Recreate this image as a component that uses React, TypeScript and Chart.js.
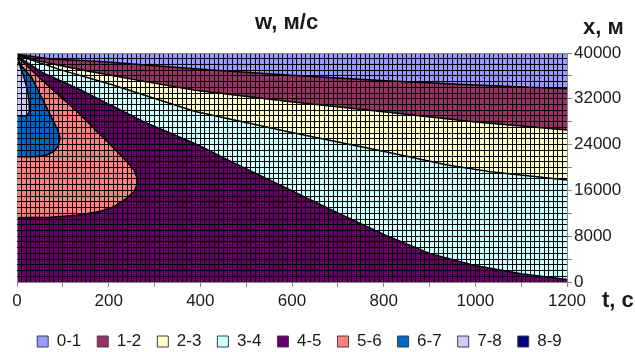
import React, { useEffect, useRef } from 'react';
import { Chart, registerables } from 'chart.js';

Chart.register(...registerables);

// ---- data ----
const LEVELS = ['0-1', '1-2', '2-3', '3-4', '4-5', '5-6', '6-7', '7-8', '8-9'];
const COLORS = ['#9999FF', '#993366', '#FFFFCC', '#CCFFFF', '#660066', '#FF8080', '#0066CC', '#CCCCFF', '#000080'];

const TITLE = 'w, м/с';
const X_TITLE = 't, с';
const Y_TITLE = 'x, м';

const T_MIN = 0;
const T_MAX = 1200;
const X_MIN = 0;
const X_MAX = 40000;
const T_STEP = 10;      // mesh step, s
const X_STEP = 1000;    // mesh step, m
const T_LABEL_STEP = 200;
const T_TICK_STEP = 100;
const X_LABEL_STEP = 8000;
const X_TICK_STEP = 4000;

// contour lines [t, x]
const W1 = [[0, 39800], [73, 38950], [182, 38530], [400, 37150], [597, 36100], [804, 35150], [1000, 34400], [1200, 33750]];
const W2 = [[0, 39700], [60, 38400], [150, 36900], [280, 35000], [389, 33500], [597, 31500], [804, 29700], [1000, 27950], [1200, 26570]];
const W3 = [[0, 39600], [94, 37100], [204, 34550], [389, 29770], [597, 26160], [804, 22770], [939, 20440], [1033, 19270], [1200, 17810]];
const W4 = [[0, 39500], [57, 36500], [131, 33870], [276, 28020], [395, 23940], [461, 21300], [597, 16060], [701, 12030], [804, 8180], [900, 5000], [996, 2920], [1100, 1450], [1200, 420]];
const W5 = [[0, 39400], [50, 35600], [131, 29770], [204, 23940], [240, 21020], [255, 19600], [262, 18160], [261, 16900], [256, 15800], [240, 14700], [215, 13300], [180, 12300], [131, 11680], [73, 11330], [0, 11240]];
const W6 = [[0, 39300], [9, 37800], [33, 35620], [51, 32700], [69, 29770], [87, 26860], [94, 25170], [90, 23770], [80, 22770], [62, 22100], [40, 21890], [0, 21890]];
const W7 = [[0, 38700], [5, 38000], [9.5, 37100], [16, 35500], [22.5, 33600], [27, 31000], [27, 29800], [22, 29050], [0, 29020]];
const W8 = [[8, 40000], [3, 39200], [0, 38600]];

const CONTOURS = [W1, W2, W3, W4, W5, W6, W7, W8];
// corner points closing each superlevel region (region k = w >= k)
const BOTTOM_CLOSE = [[T_MAX, X_MIN], [T_MIN, X_MIN]];
const CLOSERS = [BOTTOM_CLOSE, BOTTOM_CLOSE, BOTTOM_CLOSE, BOTTOM_CLOSE, [], [], [], [[T_MIN, X_MAX]]];
const BASE = [[T_MIN, X_MIN], [T_MAX, X_MIN], [T_MAX, X_MAX], [T_MIN, X_MAX]];

const toPts = (arr: number[][]) => arr.map(([x, y]) => ({ x, y }));

const FONT = '"Liberation Sans", Arial, sans-serif';
const TEXT = '#1a1a1a';
const AXIS_GRAY = '#888888';

// canvas geometry (page px)
const SHIFT = 40;          // canvas starts 40px left of the page edge
const CANVAS_W = 679;
const CANVAS_H = 360;

const textPlugin = {
  id: 'axisTexts',
  afterDraw(chart: any) {
    const { ctx, chartArea: a } = chart;
    ctx.save();
    ctx.fillStyle = TEXT;
    ctx.font = `bold 22px ${FONT}`;
    ctx.textAlign = 'left';
    ctx.textBaseline = 'alphabetic';
    ctx.fillText(TITLE, a.left + 238, a.top - 24);
    ctx.fillText(Y_TITLE, a.right + 16, a.top - 19);
    ctx.fillText(X_TITLE, a.right + 35, a.bottom + 25);
    ctx.restore();
  },
};

export default function App() {
  const ref = useRef<HTMLCanvasElement>(null);

  useEffect(() => {
    Chart.defaults.font.family = FONT;
    Chart.defaults.font.size = 17;
    Chart.defaults.color = TEXT;

    const regionSets = LEVELS.map((label, i) => {
      const pts = i === 0 ? BASE : [...CONTOURS[i - 1], ...CLOSERS[i - 1]];
      return {
        label,
        data: toPts(pts),
        backgroundColor: COLORS[i],
        borderColor: 'transparent',
        borderWidth: 0,
        fill: 'shape',
        pointRadius: 0,
        pointHoverRadius: 0,
        pointHitRadius: 0,
        tension: 0,
        clip: 0,
        order: 100 - i,
      };
    });
    const lineSets = CONTOURS.map((c, i) => ({
      label: 'c' + (i + 1),
      data: toPts(c),
      borderColor: '#000000',
      backgroundColor: 'transparent',
      borderWidth: 1.5,
      fill: false,
      pointRadius: 0,
      pointHoverRadius: 0,
      pointHitRadius: 0,
      tension: 0,
      clip: 0,
      order: 0,
    }));

    const chart = new Chart(ref.current as HTMLCanvasElement, {
      type: 'line',
      data: { datasets: [...regionSets, ...lineSets] as any },
      plugins: [textPlugin],
      options: {
        responsive: false,
        maintainAspectRatio: false,
        devicePixelRatio: 1,
        animation: false,
        events: [],
        layout: { padding: { top: 53, left: 0, right: 0, bottom: 0 } },
        plugins: {
          title: { display: false },
          tooltip: { enabled: false },
          legend: {
            display: true,
            position: 'bottom',
            align: 'center',
            labels: {
              boxWidth: 11,
              boxHeight: 11,
              padding: 16,
              color: TEXT,
              font: { size: 17, family: FONT },
              generateLabels: (ch: any) =>
                Chart.defaults.plugins.legend.labels
                  .generateLabels(ch)
                  .filter((l: any) => l.datasetIndex < LEVELS.length)
                  .sort((a: any, b: any) => a.datasetIndex - b.datasetIndex)
                  .map((l: any) => ({ ...l, lineWidth: 1, strokeStyle: '#404040' })),
            },
          },
        },
        scales: {
          x: {
            type: 'linear',
            min: T_MIN,
            max: T_MAX,
            border: { display: true, color: AXIS_GRAY, width: 1, z: 2 },
            grid: {
              display: true,
              z: 1,
              drawOnChartArea: true,
              drawTicks: true,
              tickLength: 5,
              lineWidth: 1,
              color: (c: any) => {
                const v = Math.round(c.tick?.value ?? 0);
                return v === T_MIN || v === T_MAX ? AXIS_GRAY : '#000000';
              },
              tickColor: (c: any) => {
                const v = Math.round(c.tick?.value ?? 0);
                return v % T_TICK_STEP === 0 ? AXIS_GRAY : 'transparent';
              },
            },
            ticks: {
              stepSize: T_STEP,
              autoSkip: false,
              maxRotation: 0,
              minRotation: 0,
              padding: 4,
              color: TEXT,
              font: { size: 17, family: FONT },
              callback: (v: any) => {
                const n = Math.round(Number(v));
                return n % T_LABEL_STEP === 0 ? String(n) : '';
              },
            },
            afterFit: (s: any) => {
              s.height = 35;
              s.paddingLeft = 17 + SHIFT;
              s.paddingRight = 0;
            },
          },
          y: {
            type: 'linear',
            position: 'right',
            min: X_MIN,
            max: X_MAX,
            border: { display: true, color: AXIS_GRAY, width: 1, z: 2 },
            grid: {
              display: true,
              z: 1,
              drawOnChartArea: true,
              drawTicks: true,
              tickLength: 5,
              lineWidth: 1,
              color: (c: any) => {
                const v = Math.round(c.tick?.value ?? 0);
                return v === X_MIN || v === X_MAX ? AXIS_GRAY : '#000000';
              },
              tickColor: (c: any) => {
                const v = Math.round(c.tick?.value ?? 0);
                return v % X_TICK_STEP === 0 ? AXIS_GRAY : 'transparent';
              },
            },
            ticks: {
              stepSize: X_STEP,
              autoSkip: false,
              padding: 2,
              color: TEXT,
              font: { size: 17, family: FONT },
              callback: (v: any) => {
                const n = Math.round(Number(v));
                return n % X_LABEL_STEP === 0 ? String(n) : '';
              },
            },
            afterFit: (s: any) => {
              s.width = CANVAS_W - SHIFT - 567;
              s.paddingTop = 0;
              s.paddingBottom = 0;
            },
          },
        },
      } as any,
    });
    return () => chart.destroy();
  }, []);

  return (
    <div
      style={{
        position: 'fixed',
        left: 0,
        top: 0,
        width: 635,
        height: 352,
        overflow: 'hidden',
        background: '#ffffff',
      }}
    >
      <canvas
        ref={ref}
        width={CANVAS_W}
        height={CANVAS_H}
        style={{ display: 'block', position: 'absolute', left: -SHIFT, top: 0, width: CANVAS_W, height: CANVAS_H }}
      />
    </div>
  );
}
